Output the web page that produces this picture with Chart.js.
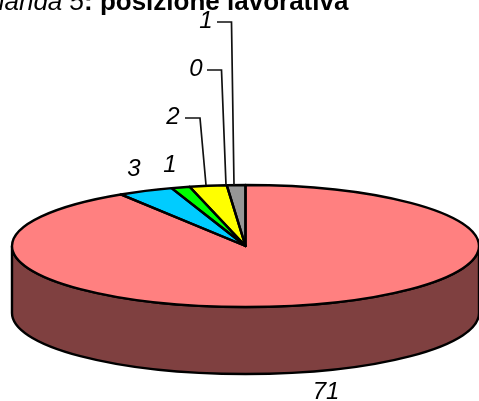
<!DOCTYPE html>
<html><head><meta charset="utf-8">
<style>html,body{margin:0;padding:0;background:#fff;overflow:hidden}canvas{display:block}</style>
<script src="https://cdn.jsdelivr.net/npm/chart.js@4"></script></head>
<body><canvas id="c" width="479" height="401" style="width:479px;height:401px"></canvas>
<script>
const categories = ['a','b','c','d','e','f'];
const values = [71, 3, 1, 2, 0, 1];
const colors = ['#FF8080','#00CCFF','#00FF00','#FFFF00','#FFFFCC','#969696'];
const titleItalic = 'Domanda 5';
const titleBold = ': posizione lavorativa';
const labelBoxes = [[326,399,null],[134,176,null],[170,172,null],[173,124,[[185,118],[200,118],[206,185]]],[196,76,[[207,70],[221.5,70],[226,185]]],[206,28,[[217,22],[231.5,22],[234,185]]]];
const SQUASH = 61/233.5, DEPTH = 67, LW = 2.4;
const tilt = {
  id:'tilt',
  beforeDatasetsDraw(chart){
    const a = chart.getDatasetMeta(0).data[0], c = chart.ctx;
    const R = a.outerRadius, ry = R*SQUASH;
    c.save();
    c.beginPath();
    c.ellipse(a.x,a.y+DEPTH,R,ry,0,0,Math.PI);
    c.lineTo(a.x-R,a.y);
    c.ellipse(a.x,a.y,R,ry,0,Math.PI,0,true);
    c.closePath();
    c.fillStyle='#7F4040';c.fill();
    c.lineWidth=LW;c.strokeStyle='#000';c.stroke();
    c.restore();
  },
  beforeDatasetDraw(chart){
    const a = chart.getDatasetMeta(0).data[0], c = chart.ctx;
    c.save();
    c.translate(a.x,a.y);c.scale(1,SQUASH);c.translate(-a.x,-a.y);
  },
  afterDatasetDraw(chart){ chart.ctx.restore(); },
  afterDatasetsDraw(chart){
    const arcs = chart.getDatasetMeta(0).data, c = chart.ctx;
    c.save();
    c.strokeStyle='#000';c.lineWidth=LW;c.lineJoin='round';
    arcs.forEach(a=>{
      if(a.endAngle-a.startAngle<=0) return;
      const ry=a.outerRadius*SQUASH;
      c.beginPath();
      c.moveTo(a.x,a.y);
      c.ellipse(a.x,a.y,a.outerRadius,ry,0,a.startAngle,a.endAngle);
      c.closePath();c.stroke();
    });
    c.lineWidth=1.7;c.strokeStyle='#111';c.lineJoin='miter';
    labelBoxes.forEach(b=>{
      if(!b[2])return;
      c.beginPath();b[2].forEach((p,i)=>i?c.lineTo(p[0],p[1]):c.moveTo(p[0],p[1]));c.stroke();
    });
    c.fillStyle='#000';c.textBaseline='alphabetic';
    c.font='italic 24px "Liberation Sans"';
    values.forEach((v,i)=>{c.textAlign='center';c.fillText(String(v),labelBoxes[i][0],labelBoxes[i][1]);});
    c.textAlign='left';
    c.font='italic 26px "Liberation Sans"';
    const w=c.measureText(titleItalic).width, x0=84-w;
    c.fillText(titleItalic,x0,10);
    c.font='bold 26px "Liberation Sans"';
    c.fillText(titleBold,x0+w,10);
    c.restore();
  }
};
new Chart(document.getElementById('c'),{
  type:'pie',
  data:{labels:categories,datasets:[{data:values,backgroundColor:colors,borderWidth:0,radius:233.5}]},
  options:{responsive:false,animation:false,devicePixelRatio:1,
    layout:{padding:{left:12,top:91,right:0,bottom:0}},
    plugins:{legend:{display:false},tooltip:{enabled:false},title:{display:false}}},
  plugins:[tilt]
});
</script></body></html>
